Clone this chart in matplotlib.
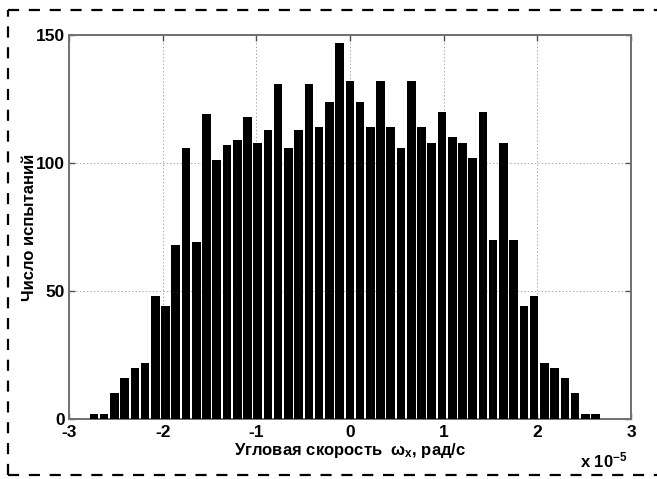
import numpy as np
import matplotlib
matplotlib.use("Agg")
import matplotlib.pyplot as plt
from matplotlib.lines import Line2D

plt.rcParams['font.family'] = ['Liberation Sans', 'DejaVu Sans']
plt.rcParams['font.weight'] = 'bold'
plt.rcParams['mathtext.fontset'] = 'custom'
plt.rcParams['mathtext.rm'] = 'Liberation Sans:bold'
plt.rcParams['mathtext.it'] = 'Liberation Sans:bold'
plt.rcParams['mathtext.bf'] = 'Liberation Sans:bold'
plt.rcParams['lines.scale_dashes'] = False

# Histogram of angular rate (units of 1e-5 rad/s), 50 bins
data_min = -2.789
data_max = 2.676
counts = [2, 2, 10, 16, 20, 22, 48, 44, 68, 106,
          69, 119, 101, 107, 109, 118, 108, 113, 131, 106,
          113, 131, 114, 124, 147, 132, 124, 114, 132, 114,
          106, 132, 114, 108, 120, 110, 108, 102, 120, 70,
          108, 70, 44, 48, 22, 20, 16, 10, 2, 2]
x_ticks = [-3, -2, -1, 0, 1, 2, 3]
y_ticks = [0, 50, 100, 150]

n_bins = len(counts)
edges = np.linspace(data_min, data_max, n_bins + 1)
centers = 0.5 * (edges[:-1] + edges[1:])
bin_w = edges[1] - edges[0]

fig = plt.figure(figsize=(6.57, 4.79), dpi=100)
ax = fig.add_axes([69 / 657, 1 - 419 / 479, (631 - 69) / 657, (419 - 35) / 479])

ax.bar(centers, counts, width=0.84 * bin_w, color='black', edgecolor='black',
       linewidth=0, zorder=3)

ax.set_xlim(-3, 3)
ax.set_ylim(0, 150)
ax.set_xticks(x_ticks)
ax.set_yticks(y_ticks)
ax.set_xticklabels([str(t) for t in x_ticks])
ax.set_yticklabels([str(t) for t in y_ticks])

ax.grid(True, linestyle=(0, (1, 1.5)), color='#a8a8a8', linewidth=0.7, zorder=0)
ax.set_axisbelow(True)

for sp in ax.spines.values():
    sp.set_color('#707070')
    sp.set_linewidth(1.4)

ax.tick_params(direction='in', top=True, right=True, length=4, width=1,
               color='#505050', labelsize=12.5)
ax.tick_params(axis='x', pad=4)
ax.tick_params(axis='y', pad=3)
for lab in ax.get_xticklabels() + ax.get_yticklabels():
    lab.set_fontweight('bold')

ax.set_xlabel('Угловая скорость  $\\omega_x$, рад/с', fontsize=12,
              fontweight='bold', labelpad=1)
ax.set_ylabel('Число испытаний', fontsize=12, fontweight='bold')
ax.yaxis.set_label_coords(-0.057, 0.5)

fig.text(604 / 657, 1 - 467 / 479, 'x 10$^{-5}$', fontsize=12, fontweight='bold',
         ha='center', va='baseline')

# dashed frame around the figure
dash = dict(color='black', linewidth=1.6, dashes=(8, 7), transform=fig.transFigure)
xl, xr = 8 / 657, 1.0
yt, yb = 1 - 10 / 479, 1 - 475 / 479
fig.add_artist(Line2D([xl, xl], [yb, yt], **dash))
fig.add_artist(Line2D([xl, xr], [yt, yt], **dash))
fig.add_artist(Line2D([xl, xr], [yb, yb], **dash))

fig.savefig('out.png', dpi=100)
